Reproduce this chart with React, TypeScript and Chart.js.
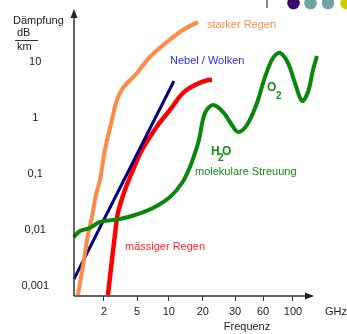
import React, { useEffect, useRef } from 'react';
import { Chart, registerables } from 'chart.js';

Chart.register(...registerables);

// x axis is schematic: tick k sits at position xTickPos[k]
const xTickLabels = ['2', '5', '10', '20', '30', '60', '100'];
const xTickPos = [1, 2.05, 3.06, 4.14, 5.16, 6.05, 7];
const yTickValues = [0.001, 0.01, 0.1, 1, 10];
const yTickLabels = ['0,001', '0,01', '0,1', '1', '10'];

// starker Regen (heavy rain)
const starkX = [0.175, 0.365, 0.492, 0.619, 0.746, 0.873, 1.032, 1.254, 1.413, 1.603, 2.048, 2.46, 3.0, 3.508, 3.984];
const starkY = [0.000685, 0.00289, 0.00807, 0.0169, 0.0418, 0.0775, 0.266, 0.914, 2.08, 3.4, 6.31, 12.2, 22.6, 37.0, 51.4];

// Nebel / Wolken (fog / clouds)
const nebelX = [0.048, 1.635, 3.222];
const nebelY = [0.00132, 0.0775, 4.54];

// mässiger Regen (moderate rain)
const regenX = [1.127, 1.254, 1.349, 1.444, 1.667, 1.921, 2.206, 2.714, 3.095, 3.508, 3.889, 4.302, 4.429];
const regenY = [0.000685, 0.00289, 0.00807, 0.01995, 0.0514, 0.117, 0.266, 0.743, 1.38, 2.77, 3.85, 4.73, 4.73];

// molekulare Streuung (H2O / O2)
const molX = [0.048, 0.238, 0.556, 0.873, 1.508, 1.984, 2.556, 3.095, 3.476, 3.73, 3.921, 4.016, 4.206, 4.46, 4.778, 5.063, 5.254, 5.54, 5.857, 6.111, 6.365, 6.587, 6.841, 7.063, 7.286, 7.476, 7.635, 7.762];
const molY = [0.00744, 0.00952, 0.01077, 0.01378, 0.01559, 0.01837, 0.0245, 0.0385, 0.0685, 0.132, 0.266, 0.402, 1.218, 1.69, 1.27, 0.743, 0.557, 0.743, 1.84, 5.35, 11.7, 14.4, 9.52, 4.18, 2.0, 2.89, 7.14, 12.7];

const FONT = '"Liberation Sans", Arial, sans-serif';

const pts = (xs: number[], ys: number[]) => xs.map((x, i) => ({ x, y: ys[i] }));

const decorPlugin = {
  id: 'decor',
  afterDraw(chart: any) {
    const ctx = chart.ctx as CanvasRenderingContext2D;
    const xs = chart.scales.x;
    const ys = chart.scales.y;
    const x0 = xs.left;
    const y0 = ys.bottom;
    ctx.save();
    // axes
    ctx.strokeStyle = '#333';
    ctx.fillStyle = '#222';
    ctx.lineWidth = 1.5;
    ctx.beginPath();
    ctx.moveTo(x0, y0);
    ctx.lineTo(x0, ys.top + 6);
    ctx.moveTo(x0, y0);
    ctx.lineTo(306, y0);
    ctx.stroke();
    ctx.beginPath();
    ctx.moveTo(x0, ys.top - 1);
    ctx.lineTo(x0 - 3.5, ys.top + 8);
    ctx.lineTo(x0 + 3.5, ys.top + 8);
    ctx.closePath();
    ctx.fill();
    ctx.beginPath();
    ctx.moveTo(314, y0);
    ctx.lineTo(305, y0 - 3.5);
    ctx.lineTo(305, y0 + 3.5);
    ctx.closePath();
    ctx.fill();

    // axis titles
    ctx.font = `11px ${FONT}`;
    ctx.textBaseline = 'middle';
    ctx.textAlign = 'left';
    ctx.fillStyle = '#222';
    ctx.fillText('Dämpfung', 13, 21);
    ctx.fillText('dB', 17, 33);
    ctx.fillText('km', 17, 47);
    ctx.lineWidth = 1;
    ctx.beginPath();
    ctx.moveTo(15, 40.5);
    ctx.lineTo(38, 40.5);
    ctx.stroke();
    ctx.textAlign = 'center';
    ctx.fillText('Frequenz', 247, 327);
    ctx.fillText('GHz', 336, 312);

    // series labels
    ctx.textAlign = 'left';
    ctx.fillStyle = '#ff8c50';
    ctx.fillText('starker Regen', 207, 25);
    ctx.fillStyle = '#2a2aff';
    ctx.fillText('Nebel / Wolken', 170, 61);
    ctx.fillStyle = '#ff2525';
    ctx.fillText('mässiger Regen', 125, 247);
    ctx.fillStyle = '#138f13';
    ctx.fillText('molekulare Streuung', 195, 172);

    ctx.font = `bold 12px ${FONT}`;
    ctx.fillText('H', 211, 152);
    ctx.fillText('O', 222, 152);
    ctx.fillText('O', 267, 88);
    ctx.font = `bold 10px ${FONT}`;
    ctx.fillText('2', 218, 158);
    ctx.fillText('2', 276, 96);

    // top-right decoration
    ctx.fillStyle = '#888';
    ctx.fillRect(266, 0, 2, 8);
    const dots: [number, string][] = [[293.5, '#3b0b6e'], [310.5, '#6fa3a3'], [328, '#6fa3a3'], [346.5, '#cccc00']];
    dots.forEach(([cx, col]) => {
      ctx.fillStyle = col;
      ctx.beginPath();
      ctx.arc(cx, 3, 6.3, 0, Math.PI * 2);
      ctx.fill();
    });
    ctx.restore();
  },
};

export default function App() {
  const ref = useRef<HTMLCanvasElement | null>(null);
  useEffect(() => {
    if (!ref.current) return;
    const lineDs = (label: string, data: any, color: string, width: number) => ({
      label,
      data,
      borderColor: color,
      backgroundColor: color,
      borderWidth: width,
      pointRadius: 0,
      tension: 0.35,
      fill: false,
      clip: false as any,
    });
    const chart = new Chart(ref.current, {
      type: 'line',
      data: {
        datasets: [
          lineDs('molekulare Streuung', pts(molX, molY), '#088808', 4),
          lineDs('starker Regen', pts(starkX, starkY), '#ff8a48', 4),
          lineDs('Nebel / Wolken', pts(nebelX, nebelY), '#00007f', 3),
          lineDs('mässiger Regen', pts(regenX, regenY), '#ff0000', 4.5),
        ],
      },
      options: {
        animation: false,
        responsive: false,
        devicePixelRatio: 1,
        layout: { padding: { top: 10, right: 28.8, left: 0, bottom: 0 } },
        plugins: { legend: { display: false }, tooltip: { enabled: false } },
        scales: {
          x: {
            type: 'linear',
            min: 0.05,
            max: 7.8,
            border: { display: false },
            grid: { display: true, drawOnChartArea: false, drawTicks: true, tickLength: 5, color: '#333', lineWidth: 1 },
            afterBuildTicks: (scale: any) => {
              scale.ticks = xTickPos.map((v) => ({ value: v }));
            },
            afterFit: (scale: any) => {
              scale.height = 38;
              scale.paddingLeft = 0;
              scale.paddingRight = 0;
            },
            ticks: {
              autoSkip: false,
              maxRotation: 0,
              padding: 4,
              color: '#222',
              font: { family: FONT, size: 11 },
              callback: (_v: any, i: number) => xTickLabels[i],
            },
          },
          y: {
            type: 'logarithmic',
            min: 0.000658,
            max: 84.1,
            border: { display: false },
            grid: { display: false },
            afterBuildTicks: (scale: any) => {
              scale.ticks = yTickValues.map((v) => ({ value: v }));
            },
            afterFit: (scale: any) => {
              scale.width = 74;
              scale.paddingTop = 0;
              scale.paddingBottom = 0;
            },
            ticks: {
              autoSkip: false,
              crossAlign: 'center',
              padding: 17,
              color: '#222',
              font: { family: FONT, size: 11 },
              callback: (_v: any, i: number) => yTickLabels[i],
            },
          },
        },
      } as any,
      plugins: [decorPlugin],
    });
    return () => chart.destroy();
  }, []);
  return (
    <div style={{ position: 'fixed', left: 0, top: 0, width: 347, height: 334, background: '#fff' }}>
      <canvas ref={ref} width={347} height={334} style={{ width: 347, height: 334, display: 'block' }} />
    </div>
  );
}
